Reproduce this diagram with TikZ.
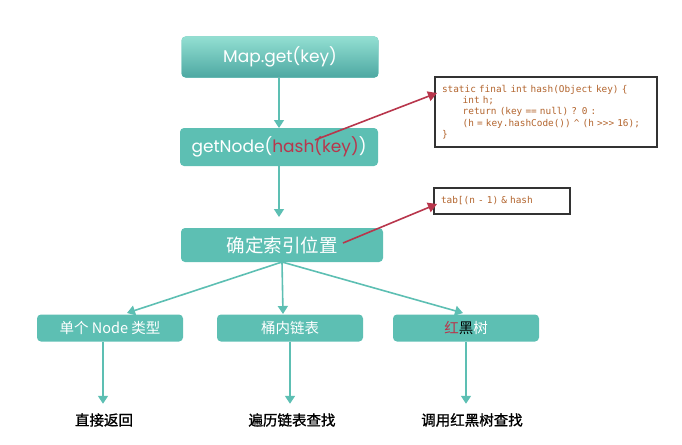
\documentclass[tikz,border=0pt]{standalone}
\usepackage{fontspec}
\setmainfont{Poppins}
\newfontfamily\codefont{DejaVu Sans Mono}
\newfontfamily\cjk{Noto Sans CJK SC}
\newfontfamily\cjkbold[FakeBold=1.2]{Noto Sans CJK SC}
\usetikzlibrary{
  arrows.meta
  }
\definecolor{teal1}{HTML}{5DBFB3}
\definecolor{tealtop}{HTML}{93DFD2}
\definecolor{tealbot}{HTML}{4DA8A2}
\definecolor{hashred}{HTML}{B8364C}
\definecolor{codebrown}{HTML}{B3652E}

\begin{document}
\begin{tikzpicture}[x=1pt, y=-1pt]
    \useasboundingbox (0,0) rectangle (682,444);
    \tikzset{box/.style = {rounded corners=4pt, fill=teal1, text=white, inner sep=0pt, outer sep=0pt},
             flow/.style = {teal1, line width=1.6pt, -{Triangle[length=8pt, width=10pt]}},
             hint/.style = {hashred, line width=1.6pt, -{Triangle[length=9pt, width=10pt]}},
             code/.style = {draw=black!80, line width=1.4pt, fill=white, inner sep=0pt, outer sep=0pt,
                            align=left, font=\codefont\fontsize{9.4}{11.3}\selectfont, text=codebrown},
             result/.style = {font=\cjkbold\fontsize{14.5}{16}\selectfont, text=black}}

    % main flow
    \node [box, top color=tealtop, bottom color=tealbot, minimum width=197pt, minimum height=41pt,
           font=\fontsize{17}{20}\selectfont] (mapget) at (280,57) {Map.get(key)};
    \node [box, minimum width=198pt, minimum height=38pt, font=\fontsize{17}{20}\selectfont]
          (getnode) at (279,147) {getNode(\textcolor{hashred}{hash(key)})};
    \node [box, minimum width=202pt, minimum height=34pt, font=\cjk\fontsize{18.5}{20}\selectfont]
          (index) at (282,245) {确定索引位置};

    % bucket types
    \node [box, minimum width=146pt, minimum height=27pt, font=\cjk\fontsize{14.5}{16}\selectfont]
          (single) at (110,328) {单个 Node 类型};
    \node [box, minimum width=146pt, minimum height=27pt, font=\cjk\fontsize{14.5}{16}\selectfont]
          (bucket) at (290,328) {桶内链表};
    \node [box, minimum width=146pt, minimum height=27pt, font=\cjk\fontsize{14.5}{16}\selectfont]
          (rbtree) at (466,328) {\textcolor{hashred}{红}\textcolor{black}{黑}树};

    % results
    \node [result] (ret) at (104,420) {直接返回};
    \node [result] (traverse) at (292,420) {遍历链表查找};
    \node [result] (rbfind) at (472,420) {调用红黑树查找};

    % code
    \node [code, minimum width=222pt, minimum height=70pt, text width=208pt] (hashcode) at (546,112)
          {static final int hash(Object key) \{\\
          \hspace*{2.2em}int h;\\
          \hspace*{2.2em}return (key == null) ? 0 :\\
          \hspace*{2.2em}(h = key.hashCode()) \^{} (h >>> 16);\\
          \}};
    \node [code, minimum width=136pt, minimum height=26pt, text width=122pt] (tabcode) at (502,201)
          {tab[(n - 1) \& hash};

    % arrows
    \draw [flow] (mapget.south -| getnode.south) -- (getnode.north);
    \draw [flow] (getnode.south) -- ([yshift=11pt]getnode.south |- index.north);
    \coordinate (fork) at (282,262);
    \draw [flow] (fork) -- (127,313);
    \draw [flow] (fork) -- (283,314);
    \draw [flow] (fork) -- (463,313);
    \draw [flow] ([xshift=-7pt]single.south) -- ([xshift=-1pt, yshift=6pt]ret.north);
    \draw [flow] (bucket.south) -- ([yshift=6pt]bucket.south |- traverse.north);
    \draw [flow] (rbtree.south) -- ([yshift=6pt]rbtree.south |- rbfind.north);

    \coordinate (hashpt) at (315,140);
    \coordinate (indexpt) at (343,243);
    \draw [hint] (hashpt) -- ([xshift=2pt, yshift=19pt]hashcode.west);
    \draw [hint] (indexpt) -- ([xshift=3pt, yshift=-3pt]tabcode.west);
\end{tikzpicture}
\end{document}
